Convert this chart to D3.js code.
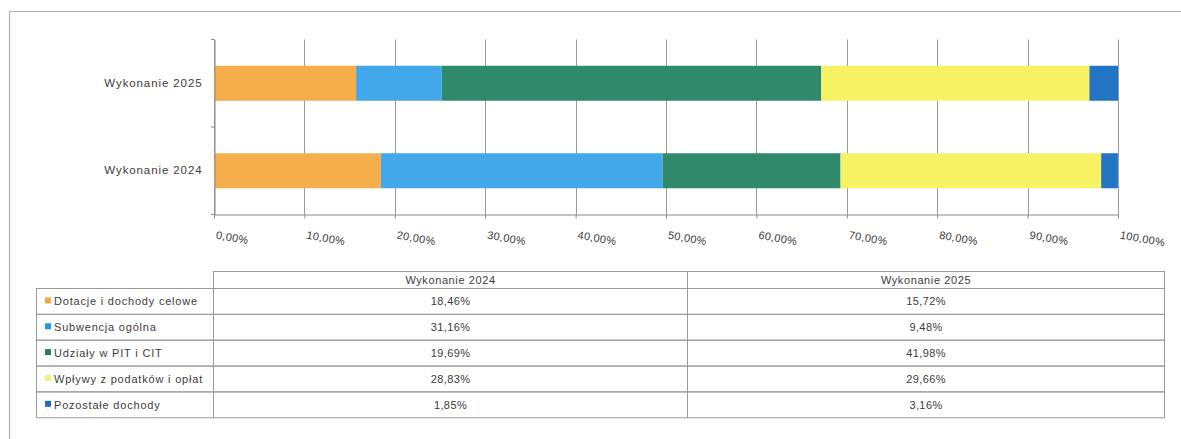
<!DOCTYPE html>
<html>
<head>
<meta charset="utf-8">
<script src="https://cdn.jsdelivr.net/npm/d3@7"></script>
<style>
  body { margin: 0; background: #fff; }
  svg text { font-family: "Liberation Sans", Arial, sans-serif; fill: #3c3c3c; }
</style>
</head>
<body>
<div id="chart"></div>
<script>
// dane
const categories = ["Wykonanie 2025", "Wykonanie 2024"];
const seriesNames = ["Dotacje i dochody celowe", "Subwencja ogólna", "Udziały w PIT i CIT", "Wpływy z podatków i opłat", "Pozostałe dochody"];
const values2024 = [18.46, 31.16, 19.69, 28.83, 1.85];
const values2025 = [15.72, 9.48, 41.98, 29.66, 3.16];
const tableColumns = ["Wykonanie 2024", "Wykonanie 2025"];
const barColors = ["#f6ae4c", "#42a8ea", "#2f8a6c", "#f7f264", "#2474c4"];
const legendColors = ["#f5a742", "#2196ee", "#2a7a64", "#f6f07a", "#1f6fc1"];
const xTicks = [0, 10, 20, 30, 40, 50, 60, 70, 80, 90, 100];

const W = 1181, H = 439;
const pl = d3.formatLocale({decimal: ",", thousands: " ", grouping: [3], currency: ["", " zł"]});
const fmt = pl.format(".2f");

const svg = d3.select("#chart").append("svg")
    .attr("width", W)
    .attr("height", H);

// ramka
svg.append("path")
    .attr("d", "M9.5," + H + " V11.5 H" + W)
    .attr("fill", "none")
    .attr("stroke", "#b0b0b0")
    .attr("stroke-width", 1.2);

// wiersze do stosu
let rows = categories.map(c => {
    let vals = c === "Wykonanie 2024" ? values2024 : values2025;
    let r = {cat: c};
    seriesNames.forEach((s, i) => r[s] = vals[i]);
    return r;
});
let stacked = d3.stack().keys(seriesNames)(rows);

let x = d3.scaleLinear().domain([0, 100]).range([214, 1118]);
let y = d3.scaleBand().domain(categories).range([39.5, 214.5]).paddingInner(0.6).paddingOuter(0.3);

// siatka
svg.append("g")
    .selectAll("line")
    .data(xTicks)
    .enter()
    .append("line")
    .attr("x1", d => Math.round(x(d)) + 0.5)
    .attr("x2", d => Math.round(x(d)) + 0.5)
    .attr("y1", 39.5)
    .attr("y2", 214.5)
    .attr("stroke", "#9a9a9a")
    .attr("stroke-width", 1);

// słupki
svg.append("g")
    .selectAll("g")
    .data(stacked)
    .enter()
    .append("g")
    .attr("fill", (d, i) => barColors[i])
    .selectAll("rect")
    .data(d => d)
    .enter()
    .append("rect")
    .attr("x", d => x(d[0]))
    .attr("y", d => y(d.data.cat))
    .attr("width", d => x(d[1]) - x(d[0]))
    .attr("height", y.bandwidth());

// oś X
let xAxis = svg.append("g")
    .attr("transform", "translate(0,214.5)")
    .call(d3.axisBottom(x).tickValues(xTicks).tickSizeInner(4).tickSizeOuter(0).tickFormat(d => fmt(d) + "%"));
xAxis.select(".domain").attr("stroke", "#8a8a8a");
xAxis.selectAll(".tick line").attr("stroke", "#8a8a8a");
xAxis.selectAll(".tick text")
    .attr("x", 0)
    .attr("y", 0)
    .attr("dy", 0)
    .attr("text-anchor", "start")
    .attr("transform", "translate(1,24) rotate(10)")
    .style("font-size", "11px")
    .style("letter-spacing", "0.3px");

// oś Y
let yAxis = svg.append("g")
    .attr("transform", "translate(214.5,0)")
    .call(d3.axisLeft(y).tickSize(0).tickPadding(12));
yAxis.select(".domain").attr("stroke", "#8a8a8a");
yAxis.selectAll(".tick text")
    .style("font-size", "11.5px")
    .style("letter-spacing", "0.9px");

let bounds = [y.range()[0], y.range()[0] + y.step(), y.range()[1]];
svg.append("g")
    .selectAll("line")
    .data(bounds)
    .enter()
    .append("line")
    .attr("x1", 211)
    .attr("x2", 214.5)
    .attr("y1", d => d)
    .attr("y2", d => d)
    .attr("stroke", "#8a8a8a");

// tabela danych
let colX = [36.5, 213.5, 687.5, 1164.5];
let headTop = 271.5, headBot = 288.5, rowH = 25.85;
let tbl = svg.append("g").attr("class", "table");
let lineColor = "#9a9a9a";

// nagłówek
tbl.append("rect")
    .attr("x", colX[1])
    .attr("y", headTop)
    .attr("width", colX[3] - colX[1])
    .attr("height", headBot - headTop)
    .attr("fill", "none")
    .attr("stroke", lineColor);
tbl.append("line")
    .attr("x1", colX[2]).attr("x2", colX[2])
    .attr("y1", headTop).attr("y2", headBot + rowH * seriesNames.length)
    .attr("stroke", lineColor);
tbl.selectAll("text.head")
    .data(tableColumns)
    .enter()
    .append("text")
    .attr("class", "head")
    .attr("x", (d, i) => (colX[i + 1] + colX[i + 2]) / 2)
    .attr("y", (headTop + headBot) / 2 + 4)
    .attr("text-anchor", "middle")
    .style("font-size", "11px")
    .style("letter-spacing", "0.6px")
    .text(d => d);

// wiersze
let tr = tbl.selectAll("g.row")
    .data(seriesNames)
    .enter()
    .append("g")
    .attr("class", "row")
    .attr("transform", (d, i) => "translate(0," + (headBot + i * rowH) + ")");

tr.append("rect")
    .attr("x", colX[0])
    .attr("y", 0)
    .attr("width", colX[3] - colX[0])
    .attr("height", rowH)
    .attr("fill", "none")
    .attr("stroke", lineColor);
tr.append("line")
    .attr("x1", colX[1]).attr("x2", colX[1])
    .attr("y1", 0).attr("y2", rowH)
    .attr("stroke", lineColor);
tr.append("rect")
    .attr("x", 45)
    .attr("y", rowH / 2 - 4)
    .attr("width", 6)
    .attr("height", 6)
    .attr("fill", (d, i) => legendColors[i]);
tr.append("text")
    .attr("x", 54)
    .attr("y", rowH / 2 + 4)
    .style("font-size", "11px")
    .style("letter-spacing", "0.8px")
    .text(d => d);
tr.append("text")
    .attr("x", (colX[1] + colX[2]) / 2)
    .attr("y", rowH / 2 + 4)
    .attr("text-anchor", "middle")
    .style("font-size", "11px")
    .style("letter-spacing", "0.4px")
    .text((d, i) => fmt(values2024[i]) + "%");
tr.append("text")
    .attr("x", (colX[2] + colX[3]) / 2)
    .attr("y", rowH / 2 + 4)
    .attr("text-anchor", "middle")
    .style("font-size", "11px")
    .style("letter-spacing", "0.4px")
    .text((d, i) => fmt(values2025[i]) + "%");
</script>
</body>
</html>
